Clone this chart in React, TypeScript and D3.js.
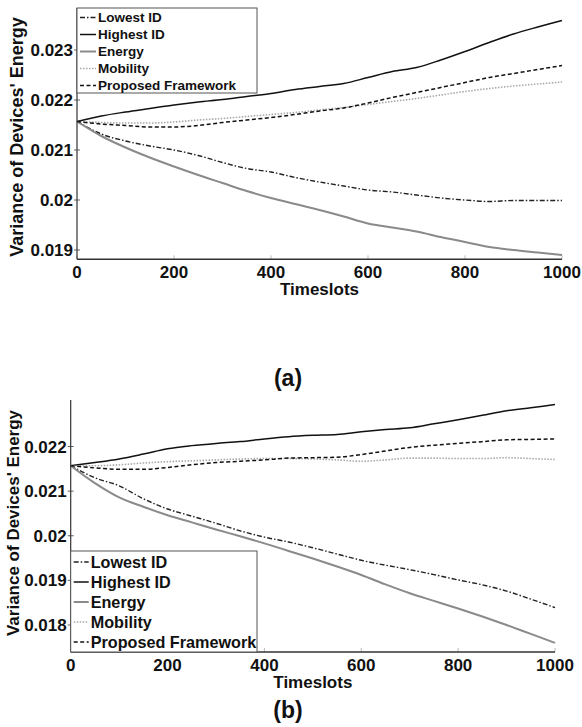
import React from "react";
import * as d3 from "d3";

const timeslots = [0,50,100,150,200,250,300,350,400,450,500,550,600,650,700,750,800,850,900,950,1000];

// Chart (a)
const aLowest = [0.02157,0.02132,0.02118,0.02108,0.02100,0.02089,0.02075,0.02063,0.02056,0.02045,0.02036,0.02028,0.02020,0.02016,0.02010,0.02004,0.02000,0.01997,0.01999,0.01999,0.01999];
const aHighest = [0.02157,0.02168,0.02176,0.02183,0.02190,0.02196,0.02201,0.02207,0.02213,0.02221,0.02227,0.02233,0.02245,0.02257,0.02265,0.02280,0.02297,0.02315,0.02332,0.02346,0.02359];
const aEnergy = [0.02157,0.02128,0.02105,0.02085,0.02067,0.02050,0.02034,0.02018,0.02004,0.01992,0.01980,0.01967,0.01953,0.01945,0.01937,0.01926,0.01916,0.01906,0.01900,0.01895,0.01890];
const aMobility = [0.02157,0.02155,0.02154,0.02154,0.02156,0.02160,0.02163,0.02167,0.02171,0.02175,0.02180,0.02185,0.02191,0.02197,0.02203,0.02210,0.02217,0.02223,0.02228,0.02232,0.02236];
const aProposed = [0.02157,0.02152,0.02149,0.02146,0.02146,0.02149,0.02155,0.02160,0.02165,0.02171,0.02178,0.02184,0.02194,0.02205,0.02215,0.02225,0.02235,0.02245,0.02253,0.02261,0.02269];

// Chart (b)
const bLowest = [0.02157,0.02130,0.02112,0.02083,0.02060,0.02044,0.02028,0.02011,0.01997,0.01986,0.01973,0.01959,0.01945,0.01934,0.01924,0.01913,0.01901,0.01890,0.01876,0.01858,0.01839];
const bHighest = [0.02157,0.02164,0.02172,0.02183,0.02195,0.02202,0.02207,0.02211,0.02217,0.02222,0.02225,0.02227,0.02233,0.02238,0.02242,0.02251,0.02260,0.02270,0.02280,0.02287,0.02294];
const bEnergy = [0.02157,0.02118,0.02086,0.02065,0.02046,0.02030,0.02014,0.01999,0.01983,0.01966,0.01949,0.01931,0.01912,0.01891,0.01871,0.01854,0.01837,0.01819,0.01800,0.01780,0.01760];
const bMobility = [0.02157,0.02157,0.02159,0.02163,0.02166,0.02168,0.02170,0.02172,0.02173,0.02173,0.02172,0.02170,0.02167,0.02170,0.02174,0.02174,0.02173,0.02173,0.02175,0.02173,0.02171];
const bProposed = [0.02157,0.02152,0.02149,0.02149,0.02153,0.02159,0.02164,0.02167,0.02170,0.02174,0.02175,0.02176,0.02182,0.02190,0.02198,0.02203,0.02207,0.02211,0.02215,0.02216,0.02217];

const seriesNames = ["Lowest ID", "Highest ID", "Energy", "Mobility", "Proposed Framework"];
const xTicks = [0, 200, 400, 600, 800, 1000];
const aYTicks = [0.019, 0.02, 0.021, 0.022, 0.023];
const bYTicks = [0.018, 0.019, 0.02, 0.021, 0.022];

const styles = [
  { stroke: "#222", width: 1.4, dash: "5,2,1.5,2" },
  { stroke: "#111", width: 1.5, dash: "" },
  { stroke: "#8a8a8a", width: 2, dash: "" },
  { stroke: "#a8a8a8", width: 1.6, dash: "1.5,1.5" },
  { stroke: "#111", width: 1.5, dash: "4,2.5" },
];

const FONT = "'Liberation Sans', Arial, sans-serif";

type PanelProps = {
  series: number[][];
  yTicks: number[];
  yDomain: [number, number];
  left: number;
  right: number;
  top: number;
  bottom: number;
  legend: { x0: number; y0: number; x1: number; y1: number; rowGap: number; fs: number; lineLen: number };
  yTitleX: number;
  yTitleY: number;
  yTitleFs: number;
  caption: string;
  captionY: number;
  captionX: number;
};

function Panel(p: PanelProps) {
  const x = d3.scaleLinear().domain([0, 1000]).range([p.left, p.right]);
  const y = d3.scaleLinear().domain(p.yDomain).range([p.bottom, p.top]);
  const line = d3
    .line<number>()
    .x((_, i) => x(timeslots[i]))
    .y((d) => y(d))
    .curve(d3.curveMonotoneX);
  const fmt = (v: number) => String(+v.toFixed(3));
  const L = p.legend;
  return (
    <g>
      {xTicks.map((t) => (
        <g key={"xt" + t}>
          <line x1={x(t)} x2={x(t)} y1={p.bottom} y2={p.bottom - 4} stroke="#bbb" strokeWidth={1} />
          <text x={x(t)} y={p.bottom + 19} textAnchor="middle" fontFamily={FONT} fontWeight="bold" fontSize={17} fill="#111">
            {t}
          </text>
        </g>
      ))}
      {p.yTicks.map((t) => (
        <g key={"yt" + t}>
          <line x1={p.left - 3} x2={p.left + 3} y1={y(t)} y2={y(t)} stroke="#666" strokeWidth={1} />
          <text x={p.left - 4} y={y(t) + 6} textAnchor="end" fontFamily={FONT} fontWeight="bold" fontSize={17} fill="#111">
            {fmt(t)}
          </text>
        </g>
      ))}
      {p.series.map((s, i) => (
        <path
          key={"s" + i}
          d={line(s) || ""}
          fill="none"
          stroke={styles[i].stroke}
          strokeWidth={styles[i].width}
          strokeDasharray={styles[i].dash || undefined}
        />
      ))}
      <line x1={p.left} x2={p.left} y1={p.top} y2={p.bottom} stroke="#333" strokeWidth={1.2} />
      <line x1={p.left} x2={p.right} y1={p.bottom} y2={p.bottom} stroke="#333" strokeWidth={1.5} />
      <rect x={L.x0} y={L.y0} width={L.x1 - L.x0} height={L.y1 - L.y0} fill="white" stroke="#555" strokeWidth={1} />
      {seriesNames.map((n, i) => {
        const cy = L.y0 + L.rowGap * (i + 0.5) + 1;
        return (
          <g key={"lg" + i}>
            <line
              x1={L.x0 + 3}
              x2={L.x0 + 3 + L.lineLen}
              y1={cy}
              y2={cy}
              stroke={styles[i].stroke}
              strokeWidth={styles[i].width}
              strokeDasharray={styles[i].dash || undefined}
            />
            <text x={L.x0 + 5 + L.lineLen} y={cy + L.fs * 0.36} fontFamily={FONT} fontWeight="bold" fontSize={L.fs} fill="#111">
              {n}
            </text>
          </g>
        );
      })}
      <text
        x={(p.left + p.right) / 2}
        y={p.bottom + 36}
        textAnchor="middle"
        fontFamily={FONT}
        fontWeight="bold"
        fontSize={17}
        fill="#111"
      >
        Timeslots
      </text>
      <text
        transform={`translate(${p.yTitleX},${p.yTitleY}) rotate(-90)`}
        textAnchor="middle"
        fontFamily={FONT}
        fontWeight="bold"
        fontSize={p.yTitleFs}
        fill="#111"
      >
        Variance of Devices' Energy
      </text>
      <text x={p.captionX} y={p.captionY} textAnchor="middle" fontFamily={FONT} fontWeight="bold" fontSize={23} fill="#111">
        {p.caption}
      </text>
    </g>
  );
}

export default function App() {
  return (
    <svg width={582} height={727} style={{ position: "absolute", left: 0, top: 0, background: "white" }}>
      <rect x={0} y={0} width={582} height={727} fill="white" />
      <Panel
        series={[aLowest, aHighest, aEnergy, aMobility, aProposed]}
        yTicks={aYTicks}
        yDomain={[0.023 - 209.3 / 50000, 0.023 + 42 / 50000]}
        left={77}
        right={562}
        top={8}
        bottom={259.3}
        legend={{ x0: 77, y0: 8, x1: 257, y1: 93, rowGap: 17, fs: 13.5, lineLen: 16 }}
        yTitleX={23}
        yTitleY={137}
        yTitleFs={18}
        caption="(a)"
        captionX={288}
        captionY={386}
      />
      <Panel
        series={[bLowest, bHighest, bEnergy, bMobility, bProposed]}
        yTicks={bYTicks}
        yDomain={[0.018 - 27 / 44600, 0.022 + 46.5 / 44600]}
        left={70.7}
        right={555}
        top={400}
        bottom={652}
        legend={{ x0: 70.7, y0: 551, x1: 257, y1: 652, rowGap: 20, fs: 16.2, lineLen: 15 }}
        yTitleX={19}
        yTitleY={523}
        yTitleFs={17}
        caption="(b)"
        captionX={288}
        captionY={718}
      />
    </svg>
  );
}
